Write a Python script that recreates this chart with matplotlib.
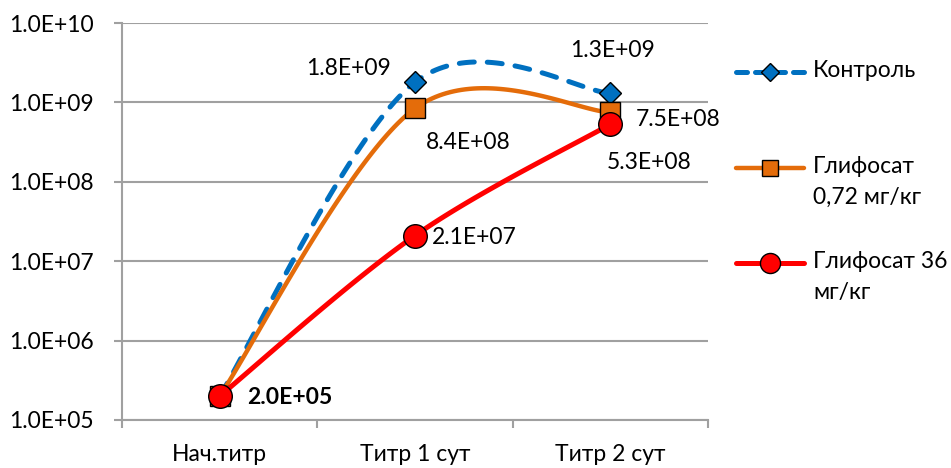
import numpy as np
import matplotlib
matplotlib.use("Agg")
import matplotlib.pyplot as plt
from matplotlib.lines import Line2D

plt.rcParams['font.family'] = ['Lato', 'DejaVu Sans']

categories = ['Нач.титр', 'Титр 1 сут', 'Титр 2 сут']
control = [2.0e5, 1.8e9, 1.3e9]
gly_072 = [2.0e5, 8.4e8, 7.5e8]
gly_36 = [2.0e5, 2.1e7, 5.3e8]
labels = ['Контроль', 'Глифосат\n0,72 мг/кг', 'Глифосат 36\nмг/кг']

W, H = 951, 468
fig = plt.figure(figsize=(W / 100, H / 100), dpi=100)
L, R, T, B = 122, 708, 23, 420
ax = fig.add_axes([L / W, 1 - B / H, (R - L) / W, (B - T) / H])

ax.set_yscale('log')
ax.set_ylim(1e5, 1e10)
ax.set_xlim(-0.5, 2.5)

px_x = (R - L) / 3.0      # pixels per category
px_y = (B - T) / 5.0      # pixels per decade


def smooth(ys, n=60):
    # Bezier smoothing (Catmull-Rom style) done in screen proportions
    xs = np.arange(len(ys), dtype=float)
    P = np.column_stack([xs * px_x, np.log10(ys) * px_y])
    P = np.vstack([P[0], P, P[-1]])
    out = []
    for i in range(1, len(P) - 2):
        p0, p1, p2, p3 = P[i - 1], P[i], P[i + 1], P[i + 2]
        c1 = p1 + (p2 - p0) / 6.0
        c2 = p2 - (p3 - p1) / 6.0
        t = np.linspace(0, 1, n)[:, None]
        seg = ((1 - t) ** 3) * p1 + 3 * ((1 - t) ** 2) * t * c1 \
            + 3 * (1 - t) * t ** 2 * c2 + t ** 3 * p2
        out.append(seg)
    seg = np.vstack(out)
    return seg[:, 0] / px_x, 10 ** (seg[:, 1] / px_y)


blue = '#0070C0'
orange = '#E46C0A'
red = '#FF0000'

x = np.arange(len(categories))

sx, sy = smooth(control)
ax.plot(sx, sy, color=blue, lw=3.6, dashes=(3.0, 2.6), dash_capstyle='round', zorder=3)
ax.plot(x, control, ls='none', marker='D', ms=11, mfc=blue, mec='black', mew=1, zorder=4)

sx, sy = smooth(gly_072)
ax.plot(sx, sy, color=orange, lw=3.2, solid_capstyle='round', zorder=5)
ax.plot(x, gly_072, ls='none', marker='s', ms=14, mfc=orange, mec='black', mew=1, zorder=6)

sx, sy = smooth(gly_36)
ax.plot(sx, sy, color=red, lw=3.6, solid_capstyle='round', zorder=7)
ax.plot(x, gly_36, ls='none', marker='o', ms=17, mfc=red, mec='black', mew=1, zorder=8)

# value labels
fs = 16.5
ann = dict(textcoords='offset pixels', fontsize=fs, va='center', zorder=10)
ax.annotate('1.8E+09', (1, control[1]), xytext=(-67, 14), ha='center', **ann)
ax.annotate('1.3E+09', (2, control[2]), xytext=(2, 43), ha='center', **ann)
ax.annotate('8.4E+08', (1, gly_072[1]), xytext=(53, -34), ha='center', **ann)
ax.annotate('7.5E+08', (2, gly_072[2]), xytext=(25, -7), ha='left', **ann)
ax.annotate('5.3E+08', (2, gly_36[2]), xytext=(-4, -38), ha='left', **ann)
ax.annotate('2.1E+07', (1, gly_36[1]), xytext=(17, -2), ha='left', **ann)
ax.annotate('2.0E+05', (0, gly_36[0]), xytext=(27, -1), ha='left', fontweight='bold', **ann)

# axes styling
grey = '#A0A0A0'
ax.grid(axis='y', which='major', color=grey, lw=1.5)
ax.grid(axis='x', visible=False)
ax.minorticks_off()
for s in ['top', 'right']:
    ax.spines[s].set_visible(False)
for s in ['left', 'bottom']:
    ax.spines[s].set_color(grey)
    ax.spines[s].set_linewidth(1.5)

ax.set_yticks([1e5, 1e6, 1e7, 1e8, 1e9, 1e10])
ax.set_yticklabels(['1.0E+05', '1.0E+06', '1.0E+07', '1.0E+08', '1.0E+09', '1.0E+10'])
ax.tick_params(axis='y', length=6, width=1.5, color=grey, pad=14, labelsize=fs)

ax.set_xticks(x)
ax.set_xticklabels(categories)
ax.set_xticks([-0.5, 0.5, 1.5, 2.5], minor=True)
ax.tick_params(axis='x', which='major', length=0, pad=17, labelsize=fs)
ax.tick_params(axis='x', which='minor', length=6, width=1.5, color=grey)
ax.set_axisbelow(True)

# legend drawn in figure pixels, handle next to the first text line
leg = [(blue, 'D', 11, 72, (3.0, 2.6), 3.6),
       (orange, 's', 14, 168, None, 3.2),
       (red, 'o', 17, 263, None, 3.6)]
for (c, m, ms, yc, dash, lw), lab in zip(leg, labels):
    yf = 1 - yc / H
    ln = Line2D([736 / W, 804 / W], [yf, yf], transform=fig.transFigure,
                color=c, lw=lw, solid_capstyle='round', dash_capstyle='round')
    if dash:
        ln.set_dashes((2.2, 1.6))
    fig.add_artist(ln)
    fig.add_artist(Line2D([770 / W], [yf], transform=fig.transFigure, ls='none',
                          marker=m, ms=ms * 0.85, mfc=c, mec='black', mew=1))
    fig.text(813 / W, yf + 12 / H, lab, fontsize=fs, va='top', ha='left',
             linespacing=1.6, transform=fig.transFigure)

fig.savefig('out.png', dpi=100)
